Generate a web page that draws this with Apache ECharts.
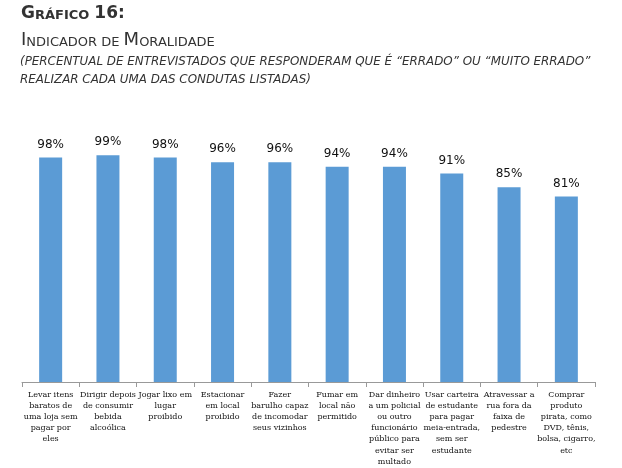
<!DOCTYPE html>
<html><head><meta charset="utf-8">
<script src="https://cdn.jsdelivr.net/npm/echarts@6/dist/echarts.min.js"></script>
<style>html,body{margin:0;padding:0;background:#fff}#c{width:622px;height:468px}</style>
</head><body><div id="c"></div>
<script>
const categories = [
  "Levar itens\nbaratos de\numa loja sem\npagar por\neles",
  "Dirigir depois\nde consumir\nbebida\nalcoólica",
  "Jogar lixo em\nlugar\nproibido",
  "Estacionar\nem local\nproibido",
  "Fazer\nbarulho capaz\nde incomodar\nseus vizinhos",
  "Fumar em\nlocal não\npermitido",
  "Dar dinheiro\na um policial\nou outro\nfuncionário\npúblico para\nevitar ser\nmultado",
  "Usar carteira\nde estudante\npara pagar\nmeia-entrada,\nsem ser\nestudante",
  "Atravessar a\nrua fora da\nfaixa de\npedestre",
  "Comprar\nproduto\npirata, como\nDVD, tênis,\nbolsa, cigarro,\netc"
];
const values = [98, 99, 98, 96, 96, 94, 94, 91, 85, 81];

const chart = echarts.init(document.getElementById('c'), null, {renderer: 'canvas'});
const font = '"DejaVu Sans", Verdana, sans-serif';
chart.setOption({
  animation: false,
  backgroundColor: '#fff',
  title: [
    {
      left: 21, top: 3, padding: 0,
      text: '{a|G}{b|RÁFICO} {a|16:}',
      textStyle: {
        rich: {
          a: {fontFamily: font, fontWeight: 'bold', fontSize: 17, lineHeight: 19, color: '#333', verticalAlign: 'bottom'},
          b: {fontFamily: font, fontWeight: 'bold', fontSize: 13, lineHeight: 16, color: '#333', verticalAlign: 'bottom'}
        }
      }
    },
    {
      left: 21, top: 29, padding: 0,
      text: '{a|I}{b|NDICADOR DE }{a|M}{b|ORALIDADE}',
      textStyle: {
        rich: {
          a: {fontFamily: font, fontWeight: 'normal', fontSize: 18, lineHeight: 20, color: '#333', verticalAlign: 'bottom'},
          b: {fontFamily: font, fontWeight: 'normal', fontSize: 13, lineHeight: 16, color: '#333', verticalAlign: 'bottom'}
        }
      }
    },
    {
      left: 20, top: 53, padding: 0,
      text: '(PERCENTUAL DE ENTREVISTADOS QUE RESPONDERAM QUE É “ERRADO” OU “MUITO ERRADO”\nREALIZAR CADA UMA DAS CONDUTAS LISTADAS)',
      textStyle: {fontFamily: font, fontStyle: 'italic', fontWeight: 'normal', fontSize: 11.9, lineHeight: 18, color: '#333'}
    }
  ],
  grid: {left: 22, right: 27, top: 153, bottom: 86, containLabel: false, outerBoundsMode: 'none'},
  xAxis: {
    type: 'category',
    data: categories,
    axisLine: {lineStyle: {color: '#999', width: 1}},
    axisTick: {show: true, length: 5, lineStyle: {color: '#999'}},
    axisLabel: {interval: 0, fontFamily: '"DejaVu Serif", "Liberation Serif", serif', fontSize: 8, lineHeight: 11.2, color: '#111', margin: 7}
  },
  yAxis: {type: 'value', min: 0, max: 100, show: false, splitLine: {show: false}},
  series: [{
    type: 'bar',
    data: values,
    barWidth: 23,
    itemStyle: {color: '#5B9BD5'},
    label: {show: true, position: 'top', distance: 7, formatter: '{c}%', fontFamily: font, fontSize: 12, color: '#111'}
  }]
});
</script>
</body></html>
